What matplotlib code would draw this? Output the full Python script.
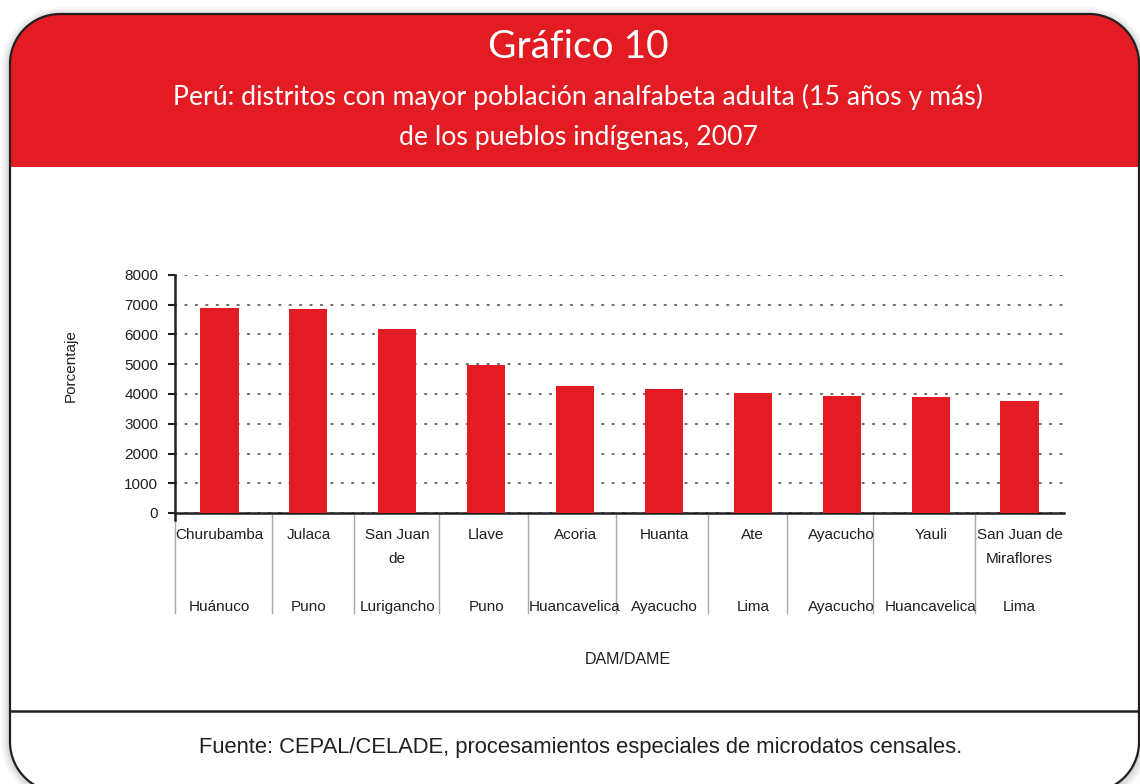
import matplotlib
matplotlib.use("Agg")
import matplotlib.pyplot as plt
from matplotlib.patches import PathPatch, Rectangle
from matplotlib.path import Path
import numpy as np

# ---- data -------------------------------------------------------------
district_lines = ["Churubamba", "Julaca", "San Juan\nde", "Llave", "Acoria",
                  "Huanta", "Ate", "Ayacucho", "Yauli", "San Juan de\nMiraflores"]
province_lines = ["Huánuco", "Puno", "Lurigancho", "Puno", "Huancavelica",
                  "Ayacucho", "Lima", "Ayacucho", "Huancavelica", "Lima"]
values = [6880, 6860, 6170, 4990, 4280, 4180, 4020, 3920, 3910, 3780]
y_ticks = [0, 1000, 2000, 3000, 4000, 5000, 6000, 7000, 8000]
# edges of the label cells below the axis, in category units
cell_edges = [-0.5, 0.59, 1.51, 2.47, 3.47, 4.46, 5.49, 6.38, 7.35, 8.5]

title = "Gráfico 10"
subtitle_lines = ["Perú: distritos con mayor población analfabeta adulta (15 años y más)",
                  "de los pueblos indígenas, 2007"]
source = "Fuente: CEPAL/CELADE, procesamientos especiales de microdatos censales."

RED = "#E31B23"
BORDER = "#231F20"
TXT = "#231F20"

W, H = 1140, 784
fig = plt.figure(figsize=(W / 100, H / 100), dpi=100)
fig.patch.set_facecolor("white")


def rounded_rect(x0, y0, x1, y1, r, n=24):
    """Closed path of a rounded rectangle (y grows downward)."""
    pts = []
    corners = [(x1 - r, y0 + r, -90, 0), (x1 - r, y1 - r, 0, 90),
               (x0 + r, y1 - r, 90, 180), (x0 + r, y0 + r, 180, 270)]
    for cx, cy, a0, a1 in corners:
        t = np.radians(np.linspace(a0, a1, n))
        pts.extend(zip(cx + r * np.cos(t), cy + r * np.sin(t)))
    pts.append(pts[0])
    codes = [Path.MOVETO] + [Path.LINETO] * (len(pts) - 2) + [Path.CLOSEPOLY]
    return Path(pts, codes)


# ---- frame: pixel-coordinate overlay ------------------------------------
bg = fig.add_axes([0, 0, 1, 1], zorder=0)
bg.set_xlim(0, W)
bg.set_ylim(H, 0)
bg.axis("off")

box_x0, box_y0, box_x1, box_y1 = 10, 14, 1139, 792
radius = 50

# soft shadow around the card
for k, a in enumerate([0.04, 0.05, 0.06, 0.07, 0.08]):
    grow = 10 - 2 * k
    sh = PathPatch(rounded_rect(box_x0 - grow + 1, box_y0 - grow + 3,
                                box_x1 + grow, box_y1 + grow, radius + grow),
                   facecolor="#555555", edgecolor="none", alpha=a, zorder=0)
    bg.add_patch(sh)

card_path = rounded_rect(box_x0, box_y0, box_x1, box_y1, radius)
card = PathPatch(card_path, facecolor="white", edgecolor="none", zorder=1)
bg.add_patch(card)

header = Rectangle((box_x0, box_y0), box_x1 - box_x0, 167 - box_y0,
                   facecolor=RED, edgecolor="none", zorder=2)
bg.add_patch(header)
header.set_clip_path(card)

outline = PathPatch(card_path, facecolor="none", edgecolor=BORDER,
                    linewidth=1.6, zorder=3)
bg.add_patch(outline)

# separator above the source note
bg.plot([box_x0, box_x1], [711, 711], color=BORDER, linewidth=1.8, zorder=3,
        solid_capstyle="butt")

title_font = ["Lato", "DejaVu Sans"]
bg.text(578, 47, title, color="white", fontsize=28,
        family=title_font, ha="center", va="center", zorder=4)
for k, line in enumerate(subtitle_lines):
    bg.text(578, 97 + 40 * k, line, color="white", fontsize=19.2,
            family=title_font, ha="center", va="center", zorder=4)

bg.text(581, 747, source, color=TXT, fontsize=15.8,
        family=["Liberation Sans", "DejaVu Sans"],
        ha="center", va="center", zorder=4)

# ---- bar chart ------------------------------------------------------------
ax_left, ax_right, ax_top, ax_bottom = 175, 1064, 275, 513
ax = fig.add_axes([ax_left / W, (H - ax_bottom) / H,
                   (ax_right - ax_left) / W, (ax_bottom - ax_top) / H], zorder=2)
ax.set_facecolor("none")

x = np.arange(len(values))
ax.bar(x, values, width=0.43, color=RED, zorder=3)

ax.set_xlim(-0.5, len(values) - 0.5)
ax.set_ylim(0, 8000)
ax.set_yticks(y_ticks)
ax.set_yticklabels([str(v) for v in y_ticks])
ax.set_xticks([])

ax.yaxis.grid(True, linestyle=(0, (0.6, 4.4)), color="#6e6e6e", linewidth=1.5,
              dash_capstyle="round", zorder=1)
ax.set_axisbelow(True)

for s in ("top", "right"):
    ax.spines[s].set_visible(False)
for s in ("left", "bottom"):
    ax.spines[s].set_color(BORDER)
    ax.spines[s].set_linewidth(1.8)
# the value axis runs a little below the category axis
ax.spines["left"].set_bounds(-8000 * 7 / (ax_bottom - ax_top), 8000)

label_font = ["Liberation Sans", "DejaVu Sans"]
ax.tick_params(axis="y", direction="out", length=5, width=1.5, color=BORDER,
               pad=7, labelsize=11, labelcolor=TXT)
for t in ax.get_yticklabels():
    t.set_family(label_font)

# category labels laid out in cells under the axis
px = 0.72  # points per pixel at 100 dpi
for i, (top_txt, bot_txt) in enumerate(zip(district_lines, province_lines)):
    for k, line in enumerate(top_txt.split("\n")):
        ax.annotate(line, xy=(i, 0), xycoords=("data", "axes fraction"),
                    xytext=(0, -(22 + 24 * k) * px), textcoords="offset points",
                    ha="center", va="center", fontsize=11, color=TXT,
                    family=label_font, annotation_clip=False)
    ax.annotate(bot_txt, xy=(i, 0), xycoords=("data", "axes fraction"),
                xytext=(0, -94 * px), textcoords="offset points",
                ha="center", va="center", fontsize=11, color=TXT,
                family=label_font, annotation_clip=False)

axis_h = ax_bottom - ax_top
for e in cell_edges:
    ax.plot([e, e], [-2 / axis_h, -100 / axis_h], transform=ax.get_xaxis_transform(),
            color="#a8a8a8", linewidth=1.0, clip_on=False, zorder=2)

bg.text(71, 366, "Porcentaje", fontsize=11, color=TXT, family=label_font,
        rotation=90, ha="center", va="center", zorder=4)
bg.text(628, 660, "DAM/DAME", fontsize=11.5, color=TXT, family=label_font,
        ha="center", va="center", zorder=4)

fig.savefig("out.png", dpi=100)
